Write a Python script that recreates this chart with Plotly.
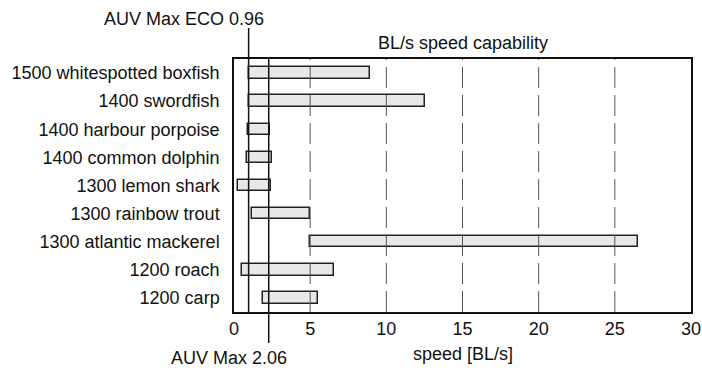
import plotly.graph_objects as go

categories = ["1500 whitespotted boxfish", "1400 swordfish", "1400 harbour porpoise",
              "1400 common dolphin", "1300 lemon shark", "1300 rainbow trout",
              "1300 atlantic mackerel", "1200 roach", "1200 carp"]
speed_min = [0.96, 0.96, 0.9, 0.83, 0.24, 1.16, 4.97, 0.5, 1.93]
speed_max = [8.96, 12.57, 2.34, 2.47, 2.43, 4.97, 26.5, 6.55, 5.5]
grid_ticks = [5, 10, 15, 20, 25]
x_ticks = [0, 5, 10, 15, 20, 25, 30]
auv_eco = 0.96
auv_max_label = 2.06
auv_max_pos = 2.28

FONT = "Liberation Sans, Arial, sans-serif"

widths = [b - a for a, b in zip(speed_min, speed_max)]

fig = go.Figure()
fig.add_trace(go.Bar(
    orientation="h", y=categories, x=widths, base=speed_min,
    width=0.41, marker=dict(color="#e8e8e8", line=dict(color="#222222", width=1.5)),
    showlegend=False, hoverinfo="skip",
))

shapes = []
for g in grid_ticks:
    shapes.append(dict(type="line", xref="x", yref="paper", x0=g, x1=g, y0=0, y1=1,
                       line=dict(color="#555555", width=1, dash="21px,7px"), layer="above"))
shapes.append(dict(type="line", xref="x", yref="paper", x0=auv_eco, x1=auv_eco,
                   y0=0, y1=1.1225, line=dict(color="#111111", width=1.5), layer="above"))
shapes.append(dict(type="line", xref="x", yref="paper", x0=auv_max_pos, x1=auv_max_pos,
                   y0=-0.1225, y1=1, line=dict(color="#111111", width=1.5), layer="above"))

annotations = [
    dict(text=f"AUV Max ECO {auv_eco}", xref="x", yref="paper", x=auv_eco, y=1.158,
         xanchor="center", yanchor="middle", xshift=-65, showarrow=False,
         font=dict(family=FONT, size=18, color="#111111")),
    dict(text=f"AUV Max {auv_max_label}", xref="x", yref="paper", x=auv_max_pos, y=-0.18,
         xanchor="center", yanchor="middle", xshift=-40, showarrow=False,
         font=dict(family=FONT, size=18, color="#111111")),
    dict(text="speed [BL/s]", xref="paper", yref="paper", x=0.5, y=-0.166,
         xanchor="center", yanchor="middle", showarrow=False,
         font=dict(family=FONT, size=18, color="#111111")),
    dict(text="BL/s speed capability", xref="paper", yref="paper", x=0.5, y=1.063,
         xanchor="center", yanchor="middle", showarrow=False,
         font=dict(family=FONT, size=18, color="#111111")),
]

fig.update_layout(
    width=702, height=372,
    margin=dict(l=234, r=11, t=59, b=60, pad=0, autoexpand=False),
    paper_bgcolor="white", plot_bgcolor="white",
    font=dict(family=FONT, size=18, color="#111111"),
    shapes=shapes, annotations=annotations,
    bargap=0,
)
fig.update_xaxes(range=[0, 30], tickvals=x_ticks, ticktext=[str(t) for t in x_ticks],
                 showgrid=False, zeroline=False, ticks="", automargin=False,
                 showline=True, mirror=True, linecolor="#111111", linewidth=1.5)
fig.update_yaxes(categoryorder="array", categoryarray=categories, autorange="reversed",
                 showgrid=False, zeroline=False, ticks="", ticklabelstandoff=9, automargin=False,
                 showline=True, mirror=True, linecolor="#111111", linewidth=1.5)

fig.write_html("out.html")
